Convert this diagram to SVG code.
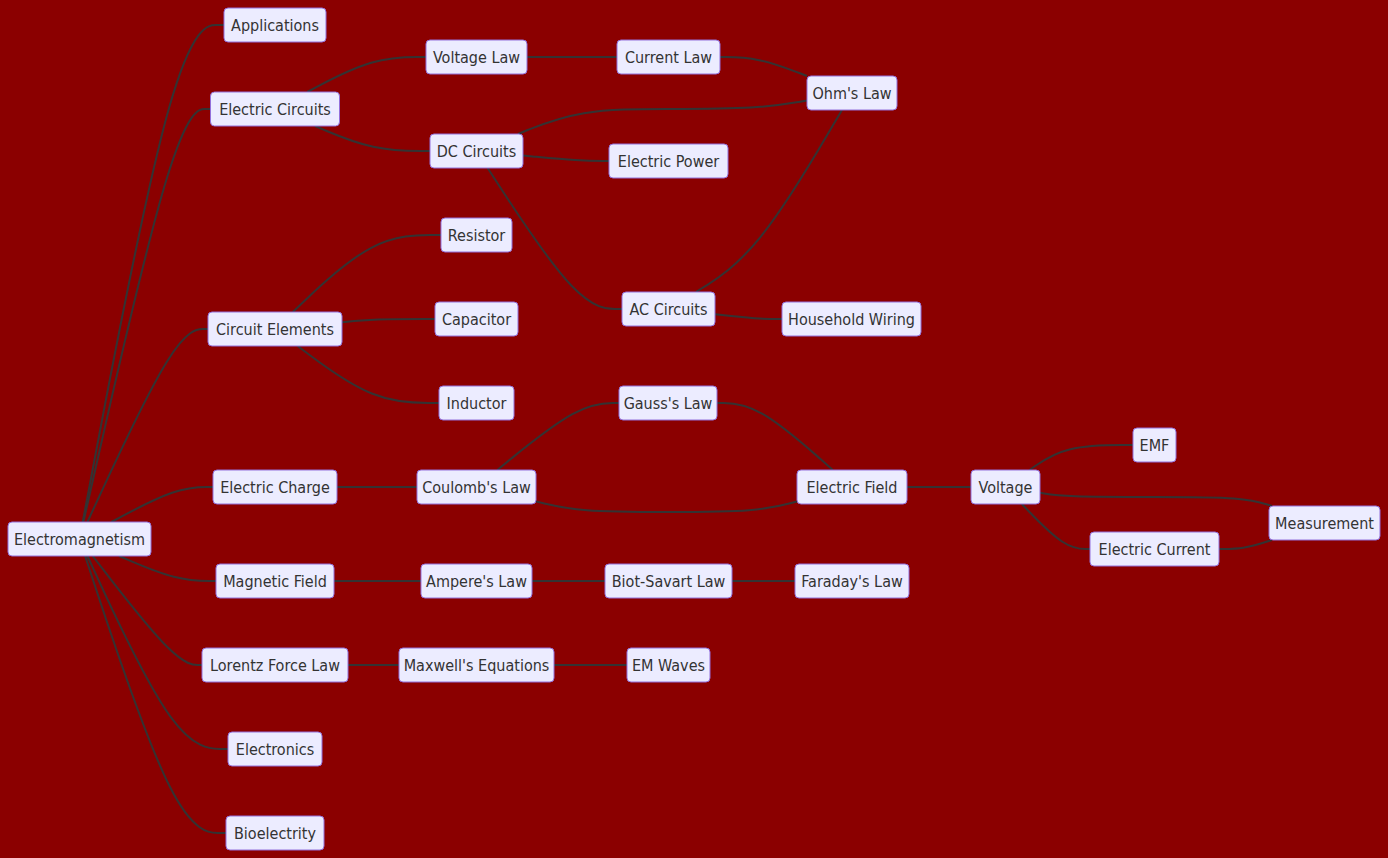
<svg xmlns="http://www.w3.org/2000/svg" width="1388" height="858" viewBox="0 0 1388 858">
<style>
.node rect{fill:#ECECFF;stroke:#9370DB;stroke-width:1px;}
.node text{fill:#333333;font-family:"DejaVu Sans Condensed","DejaVu Sans",sans-serif;font-stretch:condensed;font-size:16px;text-anchor:middle;}
.edges path{fill:none;stroke:#333333;stroke-width:2px;}
</style>
<rect x="0" y="0" width="1388" height="858" fill="#8B0000"/>
<g class="edges" id="connectors">
<path d="M82.7,522 L98.4,439.2 C114.1,356.3 145.6,190.7 169.1,107.8 C192.7,25 208.3,25 216.2,25 L224,25"/>
<path d="M83.4,522 L99,453.2 C114.6,384.3 145.8,246.7 167,177.8 C188.2,109 199.3,109 204.9,109 L210.5,109"/>
<path d="M87.4,522 L102.3,489.8 C117.3,457.7 147.1,393.3 167.2,361.2 C187.3,329 197.7,329 202.8,329 L208,329"/>
<path d="M111.4,522 L122.3,516.2 C133.3,510.3 155.1,498.7 172.1,492.8 C189,487 201,487 207,487 L213,487"/>
<path d="M119,556 L128.7,560.2 C138.3,564.3 157.7,572.7 173.8,576.8 C190,581 203,581 209.5,581 L216,581"/>
<path d="M92.7,556 L106.75,574.2 C120.8,592.3 148.9,628.7 167.1,646.8 C185.3,665 193.7,665 197.8,665 L202,665"/>
<path d="M87.4,556 L102.3,588.2 C117.3,620.3 147.1,684.7 170.6,716.8 C194,749 211,749 219.5,749 L228,749"/>
<path d="M85.1,556 L100.4,602.2 C115.7,648.3 146.4,740.7 169.9,786.8 C193.3,833 209.7,833 217.8,833 L226,833"/>
<path d="M307.2,92 L318.25,86.2 C329.3,80.3 351.4,68.7 371.2,62.8 C391,57 408.5,57 417.25,57 L426,57"/>
<path d="M314.9,126 L324.7,130.2 C334.4,134.3 354,142.7 373.2,146.8 C392.3,151 411.2,151 420.6,151 L430,151"/>
<path d="M527,57 L617,57"/>
<path d="M720,57 L726.2,57 C732.3,57 744.7,57 759.2,60.2 C773.7,63.3 790.3,69.7 798.7,72.8 L807,76"/>
<path d="M518,134 L528.25,129.8 C538.5,125.7 559,117.3 584,113.2 C609,109 638.5,109 668.1,109 C697.7,109 727.3,109 750.5,107.6 C773.7,106.2 790.3,103.4 798.7,102 L807,100.6"/>
<path d="M523,155.5 L532.4,156.4 C541.8,157.3 560.7,159.2 575,160.1 C589.3,161 599.2,161 604.1,161 L609,161"/>
<path d="M487.6,168 L502.9,191.5 C518.2,215 548.9,262 571.3,285.5 C593.7,309 607.8,309 614.9,309 L622,309"/>
<path d="M695.9,292 L706.1,285.7 C716.3,279.3 736.6,266.7 761,236.3 C785.3,206 813.7,158 827.8,134 L842,110"/>
<path d="M715,314.3 L722,315.1 C729,315.9 743,317.4 754.2,318.2 C765.3,319 773.7,319 777.8,319 L782,319"/>
<path d="M292.8,312 L306.25,299.2 C319.7,286.3 346.6,260.7 371.3,247.8 C396,235 418.5,235 429.75,235 L441,235"/>
<path d="M342,322.2 L347.25,321.7 C352.5,321.1 363,320.1 378.5,319.5 C394,319 414.5,319 424.75,319 L435,319"/>
<path d="M297.6,346 L310.25,355.5 C322.9,365 348.2,384 371.8,393.5 C395.3,403 417.2,403 428.1,403 L439,403"/>
<path d="M337,487 L417,487"/>
<path d="M497.3,470 L511,458.8 C524.7,447.7 552.1,425.3 572.4,414.2 C592.7,403 605.8,403 612.4,403 L619,403"/>
<path d="M536,501.4 L543.25,503.2 C550.5,504.9 565,508.5 587,510.2 C609,512 638.5,512 668.1,512 C697.7,512 727.3,512 748.8,510.25 C770.3,508.5 783.7,505 790.3,503.25 L797,501.5"/>
<path d="M717,403 L723.7,403 C730.3,403 743.7,403 763,414.2 C782.3,425.3 807.5,447.7 820.2,458.8 L832.8,470"/>
<path d="M907,487 L971,487"/>
<path d="M1029.6,470 L1035.5,465.8 C1041.4,461.7 1053.2,453.3 1070.4,449.2 C1087.7,445 1110.3,445 1121.7,445 L1133,445"/>
<path d="M1021.8,504 L1029,511.5 C1036.2,519 1050.6,534 1062,541.5 C1073.3,549 1081.7,549 1085.8,549 L1090,549"/>
<path d="M1040,492.8 L1044.2,493.5 C1048.3,494.2 1056.7,495.6 1075.75,496.3 C1094.8,497 1124.7,497 1154.5,497 C1184.3,497 1214.2,497 1233.7,498.5 C1253.3,500 1262.6,503 1267.25,504.5 L1271.9,506"/>
<path d="M1219,549 L1223.2,549 C1227.3,549 1235.7,549 1244.5,547.5 C1253.3,546 1262.6,543 1267.25,541.5 L1271.9,540"/>
<path d="M334,581 L421,581"/>
<path d="M532,581 L605,581"/>
<path d="M732,581 L795,581"/>
<path d="M348,665 L399,665"/>
<path d="M554,665 L627,665"/>
</g>
<g class="node" id="n-applications"><rect x="224" y="8" width="102" height="34" rx="4"/><text x="275" y="30.5">Applications</text></g>
<g class="node" id="n-electric-circuits"><rect x="210.5" y="92" width="129" height="34" rx="4"/><text x="275" y="114.5">Electric Circuits</text></g>
<g class="node" id="n-voltage-law"><rect x="426" y="40" width="101" height="34" rx="4"/><text x="476.5" y="62.5">Voltage Law</text></g>
<g class="node" id="n-current-law"><rect x="617" y="40" width="103" height="34" rx="4"/><text x="668.5" y="62.5">Current Law</text></g>
<g class="node" id="n-ohms-law"><rect x="807" y="76" width="90" height="34" rx="4"/><text x="852" y="98.5">Ohm's Law</text></g>
<g class="node" id="n-dc-circuits"><rect x="430" y="134" width="93" height="34" rx="4"/><text x="476.5" y="156.5">DC Circuits</text></g>
<g class="node" id="n-electric-power"><rect x="609" y="144" width="119" height="34" rx="4"/><text x="668.5" y="166.5">Electric Power</text></g>
<g class="node" id="n-resistor"><rect x="441" y="218" width="71" height="34" rx="4"/><text x="476.5" y="240.5">Resistor</text></g>
<g class="node" id="n-ac-circuits"><rect x="622" y="292" width="93" height="34" rx="4"/><text x="668.5" y="314.5">AC Circuits</text></g>
<g class="node" id="n-household-wiring"><rect x="782" y="302" width="139" height="34" rx="4"/><text x="851.5" y="324.5">Household Wiring</text></g>
<g class="node" id="n-circuit-elements"><rect x="208" y="312" width="134" height="34" rx="4"/><text x="275" y="334.5">Circuit Elements</text></g>
<g class="node" id="n-capacitor"><rect x="435" y="302" width="83" height="34" rx="4"/><text x="476.5" y="324.5">Capacitor</text></g>
<g class="node" id="n-inductor"><rect x="439" y="386" width="75" height="34" rx="4"/><text x="476.5" y="408.5">Inductor</text></g>
<g class="node" id="n-gauss-law"><rect x="619" y="386" width="98" height="34" rx="4"/><text x="668" y="408.5">Gauss's Law</text></g>
<g class="node" id="n-emf"><rect x="1133" y="428" width="43" height="34" rx="4"/><text x="1154.5" y="450.5">EMF</text></g>
<g class="node" id="n-electric-charge"><rect x="213" y="470" width="124" height="34" rx="4"/><text x="275" y="492.5">Electric Charge</text></g>
<g class="node" id="n-coulombs-law"><rect x="417" y="470" width="119" height="34" rx="4"/><text x="476.5" y="492.5">Coulomb's Law</text></g>
<g class="node" id="n-electric-field"><rect x="797" y="470" width="110" height="34" rx="4"/><text x="852" y="492.5">Electric Field</text></g>
<g class="node" id="n-voltage"><rect x="971" y="470" width="69" height="34" rx="4"/><text x="1005.5" y="492.5">Voltage</text></g>
<g class="node" id="n-measurement"><rect x="1269" y="506" width="111" height="34" rx="4"/><text x="1324.5" y="528.5">Measurement</text></g>
<g class="node" id="n-electric-current"><rect x="1090" y="532" width="129" height="34" rx="4"/><text x="1154.5" y="554.5">Electric Current</text></g>
<g class="node" id="n-electromagnetism"><rect x="8" y="522" width="143" height="34" rx="4"/><text x="79.5" y="544.5">Electromagnetism</text></g>
<g class="node" id="n-magnetic-field"><rect x="216" y="564" width="118" height="34" rx="4"/><text x="275" y="586.5">Magnetic Field</text></g>
<g class="node" id="n-amperes-law"><rect x="421" y="564" width="111" height="34" rx="4"/><text x="476.5" y="586.5">Ampere's Law</text></g>
<g class="node" id="n-biot-savart-law"><rect x="605" y="564" width="127" height="34" rx="4"/><text x="668.5" y="586.5">Biot-Savart Law</text></g>
<g class="node" id="n-faradays-law"><rect x="795" y="564" width="114" height="34" rx="4"/><text x="852" y="586.5">Faraday's Law</text></g>
<g class="node" id="n-lorentz-force-law"><rect x="202" y="648" width="146" height="34" rx="4"/><text x="275" y="670.5">Lorentz Force Law</text></g>
<g class="node" id="n-maxwells-equations"><rect x="399" y="648" width="155" height="34" rx="4"/><text x="476.5" y="670.5">Maxwell's Equations</text></g>
<g class="node" id="n-em-waves"><rect x="627" y="648" width="83" height="34" rx="4"/><text x="668.5" y="670.5">EM Waves</text></g>
<g class="node" id="n-electronics"><rect x="228" y="732" width="94" height="34" rx="4"/><text x="275" y="754.5">Electronics</text></g>
<g class="node" id="n-bioelectrity"><rect x="226" y="816" width="98" height="34" rx="4"/><text x="275" y="838.5">Bioelectrity</text></g>
</svg>
